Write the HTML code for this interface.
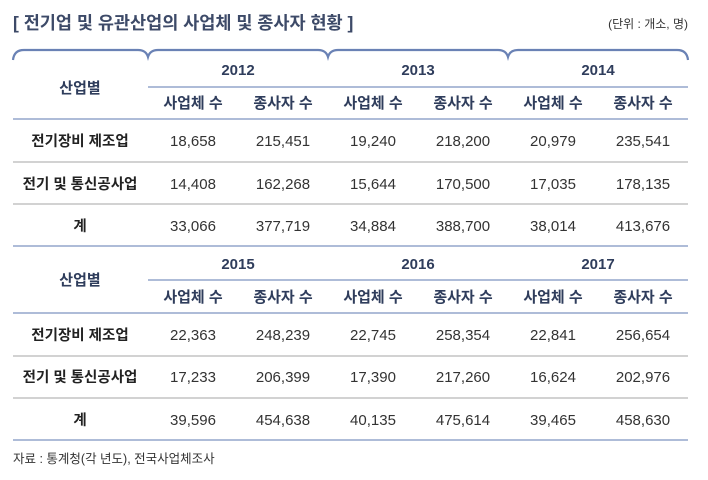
<!DOCTYPE html>
<html><head><meta charset="utf-8"><style>
html,body{margin:0;padding:0;background:#fff;}
svg text{font-family:"Liberation Sans","Noto Sans CJK KR",sans-serif;}
.h{fill:#2f3d5c;font-weight:bold;font-size:15px;text-anchor:middle;}
.d{fill:#333;font-size:15px;text-anchor:middle;}
.l{fill:#222;font-weight:bold;font-size:14.5px;text-anchor:middle;}
</style></head><body>
<svg width="708" height="475" xmlns="http://www.w3.org/2000/svg">
<text x="13" y="29" style="font-size:17.5px;font-weight:bold;fill:#3d4a68">[ 전기업 및 유관산업의 사업체 및 종사자 현황 ]</text>
<text x="688" y="28" style="font-size:12px;fill:#333;text-anchor:end">(단위 : 개소, 명)</text>
<path d="M13,60 Q14,50 24,50 L138,50 Q146,50 148,57 Q150,50 158,50 L318,50 Q326,50 328,57 Q330,50 338,50 L498,50 Q506,50 508,57 Q510,50 518,50 L677,50 Q687,50 688,60" fill="none" stroke="#6a82b5" stroke-width="2.2"/>
<g stroke="#93a6cc" stroke-width="1.5">
<line x1="148" y1="87" x2="688" y2="87"/>
<line x1="13" y1="119" x2="688" y2="119"/>
<line x1="13" y1="246" x2="688" y2="246"/>
<line x1="148" y1="280" x2="688" y2="280"/>
<line x1="13" y1="313" x2="688" y2="313"/>
<line x1="13" y1="440" x2="688" y2="440"/>
</g>
<g stroke="#c4c4c4" stroke-width="1.5">
<line x1="13" y1="162" x2="688" y2="162"/>
<line x1="13" y1="204" x2="688" y2="204"/>
<line x1="13" y1="356" x2="688" y2="356"/>
<line x1="13" y1="398" x2="688" y2="398"/>
</g>
<text class="h" x="80" y="93">산업별</text>
<text class="h" x="238" y="75">2012</text><text class="h" x="418" y="75">2013</text><text class="h" x="598" y="75">2014</text>
<text class="h" x="193" y="108">사업체 수</text><text class="h" x="283" y="108">종사자 수</text>
<text class="h" x="373" y="108">사업체 수</text><text class="h" x="463" y="108">종사자 수</text>
<text class="h" x="553" y="108">사업체 수</text><text class="h" x="643" y="108">종사자 수</text>
<text class="l" x="80" y="146">전기장비 제조업</text>
<text class="d" x="193" y="146">18,658</text><text class="d" x="283" y="146">215,451</text><text class="d" x="373" y="146">19,240</text><text class="d" x="463" y="146">218,200</text><text class="d" x="553" y="146">20,979</text><text class="d" x="643" y="146">235,541</text>
<text class="l" x="80" y="189">전기 및 통신공사업</text>
<text class="d" x="193" y="189">14,408</text><text class="d" x="283" y="189">162,268</text><text class="d" x="373" y="189">15,644</text><text class="d" x="463" y="189">170,500</text><text class="d" x="553" y="189">17,035</text><text class="d" x="643" y="189">178,135</text>
<text class="l" x="80" y="231">계</text>
<text class="d" x="193" y="231">33,066</text><text class="d" x="283" y="231">377,719</text><text class="d" x="373" y="231">34,884</text><text class="d" x="463" y="231">388,700</text><text class="d" x="553" y="231">38,014</text><text class="d" x="643" y="231">413,676</text>

<text class="h" x="80" y="285">산업별</text>
<text class="h" x="238" y="269">2015</text><text class="h" x="418" y="269">2016</text><text class="h" x="598" y="269">2017</text>
<text class="h" x="193" y="302">사업체 수</text><text class="h" x="283" y="302">종사자 수</text>
<text class="h" x="373" y="302">사업체 수</text><text class="h" x="463" y="302">종사자 수</text>
<text class="h" x="553" y="302">사업체 수</text><text class="h" x="643" y="302">종사자 수</text>
<text class="l" x="80" y="340">전기장비 제조업</text>
<text class="d" x="193" y="340">22,363</text><text class="d" x="283" y="340">248,239</text><text class="d" x="373" y="340">22,745</text><text class="d" x="463" y="340">258,354</text><text class="d" x="553" y="340">22,841</text><text class="d" x="643" y="340">256,654</text>
<text class="l" x="80" y="382">전기 및 통신공사업</text>
<text class="d" x="193" y="382">17,233</text><text class="d" x="283" y="382">206,399</text><text class="d" x="373" y="382">17,390</text><text class="d" x="463" y="382">217,260</text><text class="d" x="553" y="382">16,624</text><text class="d" x="643" y="382">202,976</text>
<text class="l" x="80" y="425">계</text>
<text class="d" x="193" y="425">39,596</text><text class="d" x="283" y="425">454,638</text><text class="d" x="373" y="425">40,135</text><text class="d" x="463" y="425">475,614</text><text class="d" x="553" y="425">39,465</text><text class="d" x="643" y="425">458,630</text>
<text x="13" y="463" style="font-size:12.5px;fill:#333">자료 : 통계청(각 년도), 전국사업체조사</text>
</svg>
</body></html>
